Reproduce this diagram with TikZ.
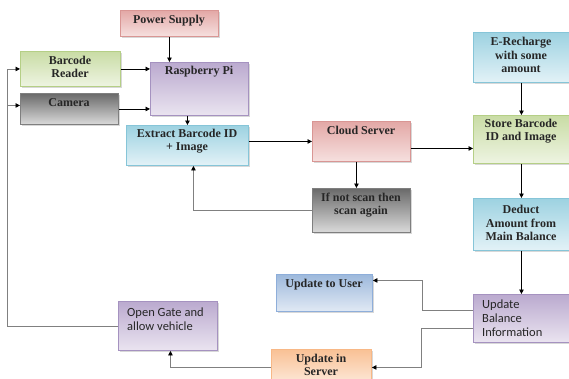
\documentclass[tikz,border=0pt]{standalone}
\usepackage{fontspec}
\setmainfont{Liberation Serif}
\newfontfamily\calfont{Carlito}
\usetikzlibrary{arrows.meta,shadows}
\definecolor{redB}{HTML}{D99694}\definecolor{redT}{HTML}{E3A8A6}\definecolor{redL}{HTML}{F6E0DF}
\definecolor{grnB}{HTML}{B5CF86}\definecolor{grnT}{HTML}{C9DCA5}\definecolor{grnL}{HTML}{EEF4E2}
\definecolor{purB}{HTML}{A592C0}\definecolor{purT}{HTML}{BBAACF}\definecolor{purL}{HTML}{EAE4F0}
\definecolor{gryB}{HTML}{7F7F7F}\definecolor{gryT}{HTML}{6A6A6A}\definecolor{gryL}{HTML}{DADADA}
\definecolor{cyaB}{HTML}{86C5D8}\definecolor{cyaT}{HTML}{9DD2E1}\definecolor{cyaL}{HTML}{E3F2F7}
\definecolor{bluB}{HTML}{8EAEDA}\definecolor{bluT}{HTML}{9DB9DC}\definecolor{bluL}{HTML}{E1E9F4}
\definecolor{orgB}{HTML}{F8B886}\definecolor{orgT}{HTML}{F9C195}\definecolor{orgL}{HTML}{FDEBDD}
\definecolor{lineG}{HTML}{808080}
\begin{document}
\begin{tikzpicture}[x=1pt,y=-1pt,
  boxbase/.style={rectangle, inner sep=0pt, line width=0.9pt, anchor=north west,
    drop shadow={shadow xshift=1.3pt,shadow yshift=-1.3pt,opacity=0.3,fill=gray}},
  redbox/.style={boxbase, draw=redB, top color=redT, bottom color=redL},
  grnbox/.style={boxbase, draw=grnB, top color=grnT, bottom color=grnL},
  purbox/.style={boxbase, draw=purB, top color=purT, bottom color=purL},
  grybox/.style={boxbase, draw=gryB, top color=gryT, bottom color=gryL},
  cyabox/.style={boxbase, draw=cyaB, top color=cyaT, bottom color=cyaL},
  blubox/.style={boxbase, draw=bluB, top color=bluT, bottom color=bluL},
  orgbox/.style={boxbase, draw=orgB, top color=orgT, bottom color=orgL},
  serif/.style={inner sep=0pt, align=center, font=\fontsize{12}{13.3}\selectfont\bfseries, text=black!85},
  sans/.style={inner sep=0pt, align=left, font=\calfont\fontsize{12.5}{14.3}\selectfont, text=black!85},
  arr/.style={draw=black, line width=0.7pt, -{Triangle[width=4.5pt,length=4.5pt]}},
  garr/.style={draw=lineG, line width=0.8pt, -{Triangle[width=4.5pt,length=4.5pt,color=black]}}
]
\clip (0,0) rectangle (569,378);
\fill[white] (0,0) rectangle (569,378);
% boxes
\node[redbox, minimum width=98pt, minimum height=26pt] (ps) at (120,10) {};
\node[grnbox, minimum width=100pt, minimum height=35pt] (br) at (20,51) {};
\node[purbox, minimum width=98pt, minimum height=53pt] (pi) at (150,62) {};
\node[grybox, minimum width=98pt, minimum height=31pt] (cam) at (20,93) {};
\node[cyabox, minimum width=122pt, minimum height=40pt] (ext) at (126,125) {};
\node[redbox, minimum width=98pt, minimum height=40pt] (cs) at (312,121) {};
\node[grybox, minimum width=98pt, minimum height=44pt] (ns) at (312,188) {};
\node[cyabox, minimum width=96pt, minimum height=50pt] (er) at (473,32) {};
\node[grnbox, minimum width=96pt, minimum height=48pt] (st) at (473,115) {};
\node[cyabox, minimum width=96pt, minimum height=52pt] (dd) at (473,198) {};
\node[blubox, minimum width=96pt, minimum height=37pt] (uu) at (276,274) {};
\node[purbox, minimum width=96pt, minimum height=48pt] (ub) at (473,294) {};
\node[purbox, minimum width=99pt, minimum height=49pt] (og) at (118,301) {};
\node[orgbox, minimum width=100pt, minimum height=36pt] (us) at (271,349) {};
% texts
\node[serif] (pst) at (169,21) {Power Supply};
\node[serif] (brt) at (70,67) {Barcode\\Reader};
\node[serif] (pit) at (199,72) {Raspberry Pi};
\node[serif] (camt) at (69,103) {Camera};
\node[serif] (extt) at (187,141) {Extract Barcode ID\\+ Image};
\node[serif] (cst) at (361,130) {Cloud Server};
\node[serif] (nst) at (361,205) {If not scan then\\scan again};
\node[serif] (ert) at (521,55) {E-Recharge\\with some\\amount};
\node[serif] (stt) at (521,131) {Store Barcode\\ID and Image};
\node[serif] (ddt) at (521,223) {Deduct\\Amount from\\Main Balance};
\node[serif] (uut) at (324,285) {Update to User};
\node[sans, anchor=west] (ubt) at (482,318) {Update\\Balance\\Information};
\node[sans, anchor=west] (ogt) at (127,319) {Open Gate and\\allow vehicle};
\node[serif] (ust) at (321,365) {Update in\\Server};
% connectors
\draw[arr] (ps.south) -- (ps.south |- pi.north);
\draw[arr] (br.east) -- (br.east -| pi.west);
\draw[arr] (cam.east) -- (cam.east -| pi.west);
\draw[arr] (ext.north |- pi.south) -- (ext.north);
\draw[arr] (ext.east |- cs.west) -- (cs.west);
\draw[arr] ([yshift=-7pt]cs.east) -- ([yshift=-7pt]cs.east -| st.west);
\draw[arr] ([xshift=-5pt]cs.south) -- ([xshift=-5pt]cs.south |- ns.north);
\draw[garr] (ns.west) -| ([xshift=6pt]ext.south);
\draw[arr] (er.south) -- (st.north);
\draw[arr] (st.south) -- (dd.north);
\draw[arr] (dd.south) -- (ub.north);
\draw[garr] ([yshift=8pt]ub.west) -- ++(-51,0) |- ([yshift=12.5pt]uu.east);
\draw[garr] ([yshift=-10pt]ub.west) -- ++(-52,0) |- (us.east);
\draw[garr] (us.west) -| ([xshift=2.5pt]og.south);
\coordinate (camin) at ([yshift=3.5pt]cam.west);
\draw[garr] (og.west) -- ++(-111,0) coordinate (lc) |- (br.west);
\draw[garr] (lc |- camin) -- (camin);
\end{tikzpicture}
\end{document}
